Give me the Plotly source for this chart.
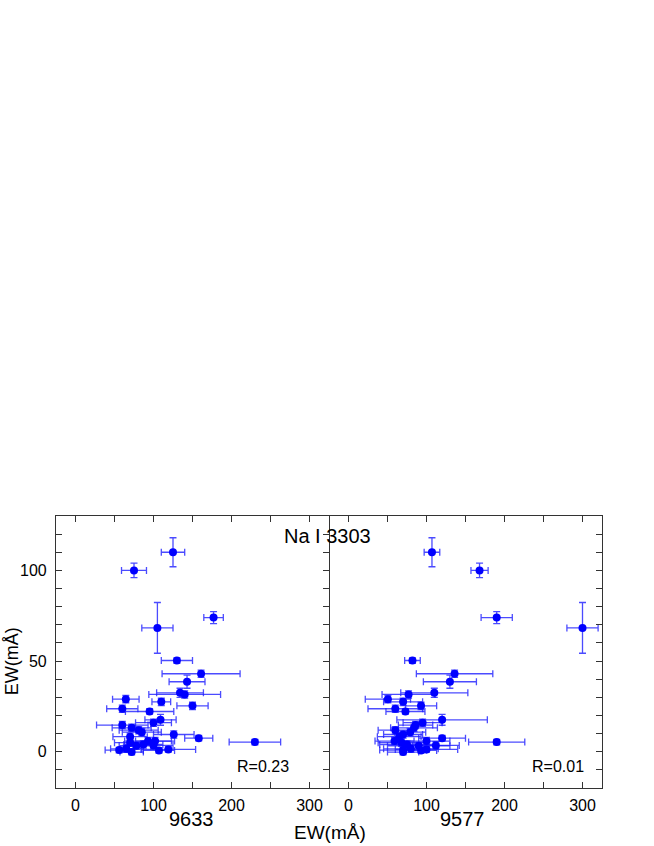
import plotly.graph_objects as go

# EW of Na I 3303 (y, shared by both panels)
ew_3303 = [110, 100, 74, 68.3, 50.3, 43, 38.6, 32.5, 31.6, 29, 27.5, 25.3, 23.7, 22.2,
           17.6, 16.0, 14.7, 13.2, 11.9, 10.8, 9.5, 8.3, 7.5, 5.9, 5.9, 5.3, 5.0, 4.0,
           3.5, 3.3, 1.6, 0.9, -0.2, 0.7, 1.3]
ew_3303_err = [8, 4, 3.3, 14, 1.5, 2, 3.6, 2.5, 2, 2, 2, 2, 2, 1.5,
               3, 2, 2, 2, 2, 2, 2, 2, 1.5, 2, 2, 1.5, 2, 2,
               2, 2, 2, 1.5, 1.5, 1.5, 1.5]
# EW of DIB 9633
ew_9633 = [125, 75, 177, 105, 130, 161, 143, 134, 140, 64.5, 110, 150, 60, 95,
           109, 100, 60, 72, 81, 85, 126, 70, 158, 93, 102, 230, 70, 87,
           100, 78, 65, 56, 72, 107, 119]
ew_9633_err = [15, 16, 12.5, 20, 20, 50, 23, 30, 46, 17, 12, 20, 20, 31,
               20, 23, 33, 25, 25, 25, 26, 22, 18, 30, 25, 33, 20, 25,
               25, 22, 20, 18, 15, 20, 35]
# EW of DIB 9577
ew_9577 = [107, 168, 190, 300, 82, 136, 130, 110, 77, 50.5, 70, 93, 60, 73,
           120, 95, 86, 84, 60, 79, 70, 65, 120, 59, 100, 190, 68, 75,
           112, 90, 80, 70, 70, 93, 100]
ew_9577_err = [10, 11, 20, 20, 10, 49, 34, 43, 34, 29, 25, 20, 35, 25,
               58, 25, 22, 30, 22, 20, 25, 28, 30, 25, 30, 36, 30, 35,
               30, 40, 35, 30, 20, 20, 40]

x_tickvals = [0, 100, 200, 300]
y_tickvals = [0, 50, 100]
panel_names = ["9633", "9577"]
r_labels = ["R=0.23", "R=0.01"]

FONT = "Liberation Sans, Arial, sans-serif"
err_col = "rgba(30,30,255,0.8)"
mk_col = "#0000ff"
LC = "#333"

fig = go.Figure()
for i, (xv, xe) in enumerate([(ew_9633, ew_9633_err), (ew_9577, ew_9577_err)]):
    fig.add_trace(go.Scatter(
        x=xv, y=ew_3303, mode="markers",
        xaxis="x" if i == 0 else "x2", yaxis="y" if i == 0 else "y2",
        marker=dict(color=mk_col, size=8),
        error_x=dict(type="data", array=xe, color=err_col, thickness=1.3, width=3.5),
        error_y=dict(type="data", array=ew_3303_err, color=err_col, thickness=1.3, width=3.5),
        showlegend=False,
    ))

tick_common = dict(ticks="inside", ticklen=6, tickcolor=LC, tickwidth=1.2,
                   showgrid=False, zeroline=False,
                   tickfont=dict(family=FONT, size=16, color="black"))
axis_common = dict(tick_common, showline=True, linecolor=LC, linewidth=1.2)
minor_x = dict(dtick=50, tick0=0, ticks="inside", ticklen=6, tickcolor=LC, tickwidth=1.2)
minor_y = dict(dtick=10, tick0=0, ticks="inside", ticklen=6, tickcolor=LC, tickwidth=1.2)

xcommon = dict(axis_common, mirror="ticks", range=[-25, 325], tickvals=x_tickvals,
               ticklabelstandoff=3, minor=minor_x)

fig.update_layout(
    width=654, height=846,
    margin=dict(l=56, r=52, t=516, b=58),
    paper_bgcolor="white", plot_bgcolor="white",
    font=dict(family=FONT, color="black"),
    xaxis=dict(xcommon, domain=[0, 0.5], anchor="y"),
    xaxis2=dict(xcommon, domain=[0.5, 1], anchor="y2"),
    yaxis=dict(axis_common, mirror="ticks", anchor="x", range=[-20, 130],
               tickvals=y_tickvals, ticklabelstandoff=5, minor=minor_y),
    # right panel: frame line on the right side, ticks on both sides
    yaxis2=dict(axis_common, mirror=False, side="right", anchor="x2", matches="y",
                tickvals=y_tickvals, showticklabels=False, minor=minor_y),
    yaxis3=dict(tick_common, showline=False, side="left", anchor="x2", overlaying="y2",
                matches="y", tickvals=y_tickvals, showticklabels=False, minor=minor_y),
)

ann = []
ann.append(dict(text="Na I 3303", xref="paper", yref="paper", x=0.497, y=0.926,
                showarrow=False, font=dict(size=20, family=FONT), xanchor="center", yanchor="middle"))
for i, (name, r) in enumerate(zip(panel_names, r_labels)):
    xr = "x" if i == 0 else "x2"
    ann.append(dict(text=r, xref=xr, yref="y", x=[240, 268][i], y=-8.1, showarrow=False,
                    font=dict(size=16, family=FONT), xanchor="center", yanchor="middle"))
    ann.append(dict(text=name, xref=xr, yref="paper", x=[149, 146][i], y=-0.114, showarrow=False,
                    font=dict(size=20, family=FONT), xanchor="center", yanchor="middle"))
ann.append(dict(text="EW(mÅ)", xref="paper", yref="paper", x=0.502, y=-0.165, showarrow=False,
                font=dict(size=19, family=FONT), xanchor="center", yanchor="middle"))
ann.append(dict(text="EW(mÅ)", xref="paper", yref="paper", x=-0.08, y=0.467, showarrow=False,
                textangle=-90, font=dict(size=18, family=FONT), xanchor="center", yanchor="middle"))
fig.update_layout(annotations=ann)

fig.write_html("out.html", config={"displayModeBar": False},
               post_script="document.body.style.margin='0';")
